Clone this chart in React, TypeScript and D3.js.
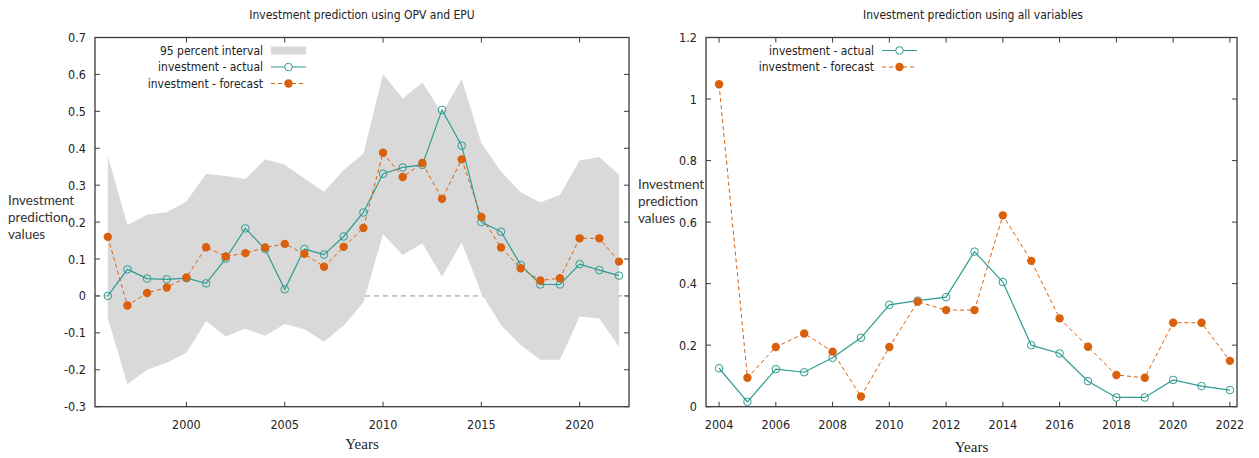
import React from "react";
import * as d3 from "d3";

const leftYears = [1996, 1997, 1998, 1999, 2000, 2001, 2002, 2003, 2004, 2005, 2006, 2007, 2008, 2009, 2010, 2011, 2012, 2013, 2014, 2015, 2016, 2017, 2018, 2019, 2020, 2021, 2022];
const leftActual = [0.0, 0.072, 0.047, 0.045, 0.048, 0.034, 0.101, 0.183, 0.127, 0.018, 0.127, 0.112, 0.161, 0.226, 0.331, 0.348, 0.355, 0.504, 0.407, 0.2, 0.174, 0.084, 0.031, 0.031, 0.086, 0.07, 0.055];
const leftForecast = [0.16, -0.026, 0.008, 0.023, 0.05, 0.132, 0.107, 0.116, 0.131, 0.141, 0.114, 0.079, 0.133, 0.184, 0.388, 0.322, 0.36, 0.263, 0.37, 0.214, 0.131, 0.075, 0.042, 0.048, 0.156, 0.156, 0.093];
const leftUpper = [0.379, 0.192, 0.22, 0.227, 0.256, 0.331, 0.325, 0.317, 0.37, 0.355, 0.318, 0.282, 0.341, 0.385, 0.601, 0.534, 0.578, 0.495, 0.587, 0.414, 0.337, 0.281, 0.253, 0.274, 0.367, 0.376, 0.328];
const leftLower = [-0.06, -0.239, -0.2, -0.181, -0.154, -0.068, -0.11, -0.088, -0.108, -0.076, -0.09, -0.124, -0.08, -0.018, 0.168, 0.111, 0.143, 0.052, 0.145, 0.007, -0.079, -0.133, -0.173, -0.173, -0.056, -0.061, -0.137];
const leftXTicks = [2000, 2005, 2010, 2015, 2020];
const leftYTicks = [-0.3, -0.2, -0.1, 0, 0.1, 0.2, 0.3, 0.4, 0.5, 0.6, 0.7];

const rightYears = [2004, 2005, 2006, 2007, 2008, 2009, 2010, 2011, 2012, 2013, 2014, 2015, 2016, 2017, 2018, 2019, 2020, 2021, 2022];
const rightActual = [0.125, 0.016, 0.122, 0.112, 0.159, 0.224, 0.331, 0.345, 0.356, 0.504, 0.405, 0.2, 0.173, 0.083, 0.03, 0.03, 0.087, 0.067, 0.054];
const rightForecast = [1.048, 0.094, 0.194, 0.238, 0.179, 0.033, 0.194, 0.341, 0.314, 0.314, 0.622, 0.474, 0.287, 0.195, 0.103, 0.094, 0.273, 0.273, 0.149];
const rightXTicks = [2004, 2006, 2008, 2010, 2012, 2014, 2016, 2018, 2020, 2022];
const rightYTicks = [0, 0.2, 0.4, 0.6, 0.8, 1, 1.2];

const TEAL = "#2f9c92";
const ORANGE = "#d9600c";
const BAND = "#d9d9d9";
const FRAME = "#3a3a3a";
const NARROW = "'Liberation Sans Narrow', 'DejaVu Sans Condensed', 'Liberation Sans', sans-serif";
const LABELFONT = "Lato, 'Open Sans', sans-serif";
const SERIF = "'Liberation Serif', 'DejaVu Serif', serif";

type PanelProps = {
  x0: number; x1: number; top: number; bottom: number;
  xDomain: [number, number]; yDomain: [number, number];
  xTicks: number[]; yTicks: number[];
  years: number[]; actual: number[]; forecast: number[];
  upper?: number[]; lower?: number[];
  title: string; titleX: number;
  legendRight: number; legendY: number;
  labelX: number; labelY: number; yearsY: number;
};

function Panel(p: PanelProps) {
  const x = d3.scaleLinear().domain(p.xDomain).range([p.x0, p.x1]);
  const y = d3.scaleLinear().domain(p.yDomain).range([p.bottom, p.top]);
  const line = d3.line<number>().x((_, i) => x(p.years[i])).y((v) => y(v));
  const area = p.upper && p.lower
    ? d3.area<number>().x((_, i) => x(p.years[i])).y0((_, i) => y(p.lower![i])).y1((v) => y(v))(p.upper)
    : null;
  const fmt = (v: number) => (Math.round(v * 10) / 10).toString();
  const tl = 5;
  const rows = p.upper ? ["band", "actual", "forecast"] : ["actual", "forecast"];
  const rowH = 16.5;
  const sw0 = p.legendRight + 8;
  const sw1 = sw0 + 35;
  return (
    <g>
      <text x={p.titleX} y={19} textAnchor="middle" fontFamily={NARROW} fontSize={12} fill="#222">{p.title}</text>
      {p.upper && (
        <line x1={p.x0} x2={p.x1} y1={y(0)} y2={y(0)} stroke="#777" strokeWidth={0.8} strokeDasharray="5,4" />
      )}
      {area && <path d={area} fill={BAND} />}
      <path d={line(p.actual) || ""} fill="none" stroke={TEAL} strokeWidth={1.2} />
      <path d={line(p.forecast) || ""} fill="none" stroke={ORANGE} strokeWidth={1} strokeDasharray="4,3" />
      {p.actual.map((v, i) => (
        <circle key={"a" + i} cx={x(p.years[i])} cy={y(v)} r={3.8} fill="none" stroke={TEAL} strokeWidth={1} />
      ))}
      {p.forecast.map((v, i) => (
        <circle key={"f" + i} cx={x(p.years[i])} cy={y(v)} r={4.2} fill={ORANGE} />
      ))}
      {rows.map((r, i) => {
        const cy = p.legendY + i * rowH;
        const label = r === "band" ? "95 percent interval" : r === "actual" ? "investment - actual" : "investment - forecast";
        return (
          <g key={r}>
            <text x={p.legendRight} y={cy + 4.2} textAnchor="end" fontFamily={NARROW} fontSize={12} fill="#222">{label}</text>
            {r === "band" && <rect x={sw0} y={cy - 4} width={sw1 - sw0} height={8} fill={BAND} />}
            {r === "actual" && (
              <g>
                <line x1={sw0} x2={sw1} y1={cy} y2={cy} stroke={TEAL} strokeWidth={1.2} />
                <circle cx={(sw0 + sw1) / 2} cy={cy} r={3.8} fill="white" stroke={TEAL} strokeWidth={1} />
              </g>
            )}
            {r === "forecast" && (
              <g>
                <line x1={sw0} x2={sw1} y1={cy} y2={cy} stroke={ORANGE} strokeWidth={1} strokeDasharray="4,3" />
                <circle cx={(sw0 + sw1) / 2} cy={cy} r={4.2} fill={ORANGE} />
              </g>
            )}
          </g>
        );
      })}
      <rect x={p.x0} y={p.top} width={p.x1 - p.x0} height={p.bottom - p.top} fill="none" stroke={FRAME} strokeWidth={1.3} />
      {p.xTicks.map((t) => (
        <g key={"x" + t}>
          <line x1={x(t)} x2={x(t)} y1={p.bottom} y2={p.bottom - tl} stroke={FRAME} />
          <line x1={x(t)} x2={x(t)} y1={p.top} y2={p.top + tl} stroke={FRAME} />
          <text x={x(t)} y={p.bottom + 22} textAnchor="middle" fontFamily={NARROW} fontSize={12.5} fill="#222">{t}</text>
        </g>
      ))}
      {p.yTicks.map((t) => (
        <g key={"y" + t}>
          <line x1={p.x0} x2={p.x0 + tl} y1={y(t)} y2={y(t)} stroke={FRAME} />
          <line x1={p.x1} x2={p.x1 - tl} y1={y(t)} y2={y(t)} stroke={FRAME} />
          <text x={p.x0 - 9} y={y(t) + 4.5} textAnchor="end" fontFamily={NARROW} fontSize={12.5} fill="#222">{fmt(t)}</text>
        </g>
      ))}
      <text x={(p.x0 + p.x1) / 2} y={p.yearsY} textAnchor="middle" fontFamily={SERIF} fontSize={15} fill="#222">Years</text>
      {["Investment", "prediction", "values"].map((w, i) => (
        <text key={w} x={p.labelX} y={p.labelY + i * 17} fontFamily={LABELFONT} fontSize={13.5} fill="#333">{w}</text>
      ))}
    </g>
  );
}

export default function App() {
  return (
    <svg width={1259} height={458} style={{ position: "absolute", left: 0, top: 0, background: "white" }}>
      <rect width={1259} height={458} fill="white" />
      <Panel
        x0={95} x1={629} top={37.5} bottom={406.7}
        xDomain={[1995.35, 2022.51]} yDomain={[-0.3, 0.7]}
        xTicks={leftXTicks} yTicks={leftYTicks}
        years={leftYears} actual={leftActual} forecast={leftForecast}
        upper={leftUpper} lower={leftLower}
        title="Investment prediction using OPV and EPU" titleX={362}
        legendRight={263} legendY={50.5}
        labelX={8} labelY={205} yearsY={449}
      />
      <Panel
        x0={706} x1={1237} top={37.5} bottom={406.7}
        xDomain={[2003.54, 2022.25]} yDomain={[0, 1.2]}
        xTicks={rightXTicks} yTicks={rightYTicks}
        years={rightYears} actual={rightActual} forecast={rightForecast}
        title="Investment prediction using all variables" titleX={973}
        legendRight={874} legendY={50.5}
        labelX={638} labelY={189} yearsY={452}
      />
    </svg>
  );
}
